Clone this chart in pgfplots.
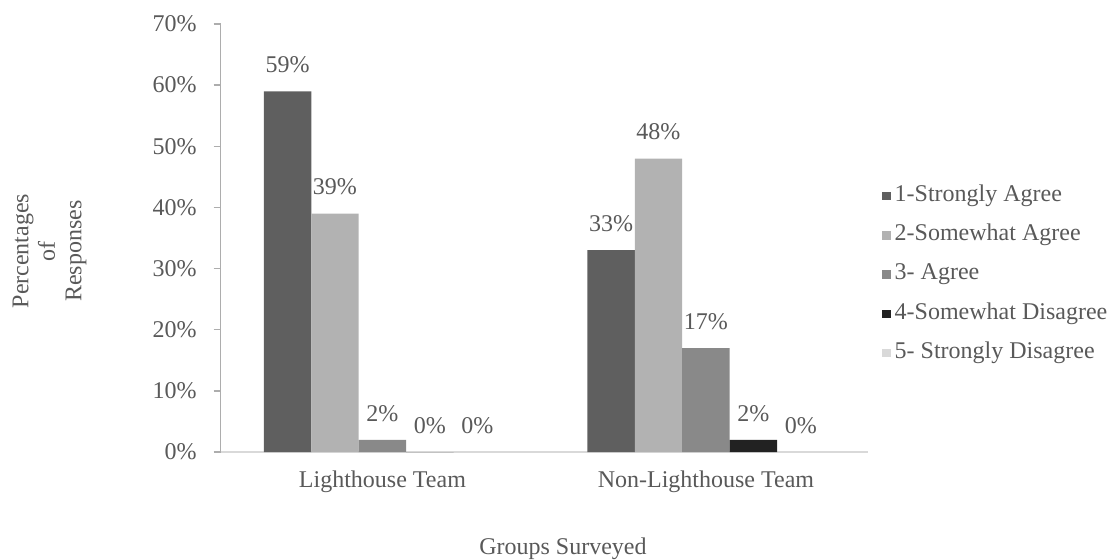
\documentclass[border=0pt,12pt]{standalone}
\usepackage{fontspec}
\setmainfont{Liberation Serif}
\usepackage{pgfplots}
\pgfplotsset{compat=1.18}

\definecolor{txt}{HTML}{595959}
\definecolor{cA}{HTML}{5F5F5F}
\definecolor{cB}{HTML}{B2B2B2}
\definecolor{cC}{HTML}{898989}
\definecolor{cD}{HTML}{222222}
\definecolor{cE}{HTML}{D9D9D9}
\definecolor{yline}{HTML}{ADADAD}
\definecolor{xline}{HTML}{D9D9D9}

\newcommand{\lbl}{\fontsize{12}{13.25}\selectfont}

\begin{document}
\begin{tikzpicture}
\path[use as bounding box] (-110.35pt,-53.5pt) rectangle (444.15pt,226pt);
\begin{axis}[
  at={(0pt,0pt)}, anchor=south west,
  width=323.5pt, height=214pt, scale only axis,
  xmin=-0.5, xmax=1.5, ymin=0, ymax=70,
  axis x line*=bottom, axis y line*=left,
  axis line style={-},
  x axis line style={draw=xline, line width=0.75pt},
  y axis line style={draw=yline, line width=0.75pt},
  xtick={0,1},
  xticklabels={Lighthouse Team, Non-Lighthouse Team},
  major x tick style={draw=none},
  ytick={0,10,...,70},
  yticklabel={\pgfmathprintnumber{\tick}\%},
  tick align=outside, major tick length=3.5pt,
  major y tick style={draw=yline, line width=0.75pt},
  /pgf/number format/assume math mode=true,
  tick label style={font=\lbl, text=txt},
  xticklabel style={anchor=base, yshift=-14pt},
  yticklabel style={anchor=east, inner sep=0pt, xshift=-8.35pt},
  xlabel={Groups Surveyed},
  xlabel style={at={(axis description cs:0.529,0)}, anchor=base,
    yshift=-51pt, font=\lbl, text=txt},
  ylabel={Percentages\\of\\Responses},
  ylabel style={at={(axis description cs:-0.2646,0.4696)}, anchor=center,
    align=center, font=\lbl, text=txt},
  ybar, bar width=0.1467,
  every axis plot/.append style={draw=none},
  nodes near coords={\pgfmathprintnumber{\pgfplotspointmeta}\%},
  nodes near coords style={font=\lbl, text=txt, yshift=5pt},
  legend cell align=left,
  legend image code/.code={\fill[#1] (0pt,-2.1pt) rectangle (4.2pt,2.1pt);},
  legend style={at={(axis description cs:1.022,0.4147)}, anchor=west,
    draw=none, fill=none, inner sep=0pt, font=\lbl, text=txt,
    row sep=8.6pt,
    nodes={inner xsep=2pt, inner ysep=0pt, text height=8.2pt, text depth=2.8pt}},
]
\addplot[fill=cA, bar shift=-0.2934] coordinates {(0,59) (1,33)};
\addplot[fill=cB, bar shift=-0.1467] coordinates {(0,39) (1,48)};
\addplot[fill=cC, bar shift=0]       coordinates {(0,2)  (1,17)};
\addplot[fill=cD, bar shift=0.1467]  coordinates {(0,0)  (1,2)};
\addplot[fill=cE, bar shift=0.2934]  coordinates {(0,0)  (1,0)};
\legend{1-Strongly Agree, 2-Somewhat Agree, 3- Agree, 4-Somewhat Disagree, 5- Strongly Disagree}
\end{axis}
\end{tikzpicture}
\end{document}
